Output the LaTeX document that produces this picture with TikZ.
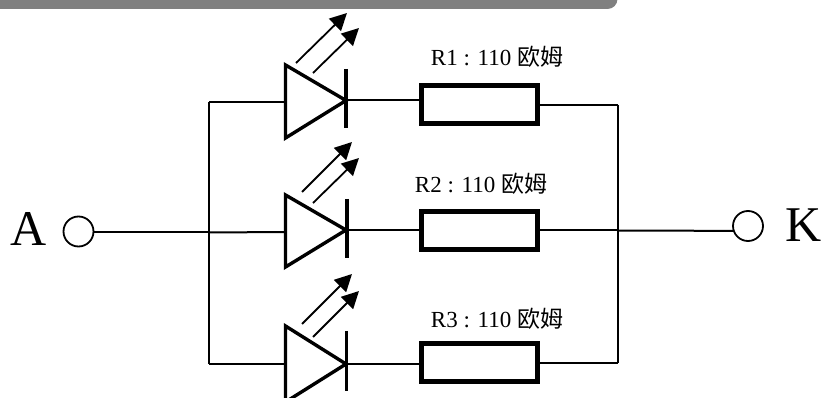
\documentclass[tikz,border=0pt]{standalone}
\usepackage{fontspec}
\setmainfont{Liberation Serif}
\newfontfamily\cjk{Noto Sans CJK SC}
\usetikzlibrary{arrows.meta}
\definecolor{barcol}{RGB}{128,128,128}
\tikzset{
  x=1pt,y=-1pt,
  wire/.style={line width=2pt,line join=miter},
  ledbody/.style={line width=3.4pt,line join=miter},
  ledbar/.style={line width=3.3pt},
  ray/.style={line width=1.8pt,-{Triangle[length=17pt,width=17pt]}},
  resbox/.style={draw,line width=4.8pt,fill=white,minimum width=116pt,minimum height=38.5pt,inner sep=0pt,outer sep=0pt},
  terminal/.style={circle,draw,line width=1.8pt,minimum size=30pt,inner sep=0pt,outer sep=0pt},
  bigtxt/.style={font=\fontsize{50}{50}\selectfont,inner sep=0pt,anchor=base},
  lab/.style={font=\fontsize{23}{23}\selectfont,inner sep=0pt,anchor=base},
}
\begin{document}
\begin{tikzpicture}
\useasboundingbox (0,0) rectangle (823,398);
\clip (0,0) rectangle (823,398);
\fill[barcol,rounded corners=10pt] (-20,-20) rectangle (617.5,9);
% terminals
\node[terminal] (ta) at (78.5,231.5) {};
\node[terminal] (tk) at (748,226) {};
\node[bigtxt] (la) at (28.5,246) {A};
\node[bigtxt] (lk) at (804,242) {K};
% buses
\coordinate (bl1) at (209,102);
\coordinate (bl2) at (209,232.5);
\coordinate (bl3) at (209,364);
\coordinate (br1) at (618,105);
\coordinate (br2) at (618,230.5);
\coordinate (br3) at (618,363);
\draw[wire] (bl1) -- (bl3);
\draw[wire] (br1) -- (br3);
\draw[wire] (ta.east |- bl2) -- (bl2);
\draw[wire] (br2) -- (tk.199);
% LED 1
\coordinate (a1) at (285.5,102);
\coordinate (k1) at (346,100.5);
\coordinate (t1) at (285.5,65);
\coordinate (b1) at (285.5,138);
\coordinate (ba1) at (346,69);
\coordinate (bb1) at (346,128);
\draw[ledbody] (t1) -- (k1) -- (b1) -- cycle;
\draw[ledbar] (ba1) -- (bb1);
\node[resbox] (r1) at (479.5,104.5) {};
\draw[wire] (bl1) -- (a1);
\draw[wire] (k1) -- (r1.west |- k1);
\draw[wire] (r1.east |- br1) -- (br1);
\coordinate (s1a) at (296,63); \coordinate (e1a) at (347,13);
\coordinate (s1b) at (313,73); \coordinate (e1b) at (359,28);
\draw[ray] (s1a) -- (e1a);
\draw[ray] (s1b) -- (e1b);
\node[lab] (l1) at (497,66) {R1 : 110 {\cjk 欧姆}};
% LED 2
\coordinate (a2) at (285.5,232);
\coordinate (k2) at (346,230);
\coordinate (t2) at (285.5,195);
\coordinate (b2) at (285.5,267);
\coordinate (ba2) at (347,199);
\coordinate (bb2) at (347,258);
\draw[ledbody] (t2) -- (k2) -- (b2) -- cycle;
\draw[ledbar] (ba2) -- (bb2);
\node[resbox] (r2) at (479.5,230.5) {};
\draw[wire] (bl2) -- (a2);
\draw[wire] (k2) -- (r2.west |- k2);
\draw[wire] (r2.east |- br2) -- (br2);
\coordinate (s2a) at (302,192); \coordinate (e2a) at (352,142);
\coordinate (s2b) at (313,203); \coordinate (e2b) at (359,158);
\draw[ray] (s2a) -- (e2a);
\draw[ray] (s2b) -- (e2b);
\node[lab] (l2) at (481,193) {R2 : 110 {\cjk 欧姆}};
% LED 3
\coordinate (a3) at (285.5,364);
\coordinate (k3) at (346,364);
\coordinate (t3) at (285.5,326);
\coordinate (b3) at (285.5,402);
\coordinate (ba3) at (346.5,331);
\coordinate (bb3) at (346.5,391);
\draw[ledbody] (t3) -- (k3) -- (b3) -- cycle;
\draw[ledbar] (ba3) -- (bb3);
\node[resbox] (r3) at (479.5,362.5) {};
\draw[wire] (bl3) -- (a3);
\draw[wire] (k3) -- (r3.west |- k3);
\draw[wire] (r3.east |- br3) -- (br3);
\coordinate (s3a) at (302,324); \coordinate (e3a) at (352,274);
\coordinate (s3b) at (313,337); \coordinate (e3b) at (359,291);
\draw[ray] (s3a) -- (e3a);
\draw[ray] (s3b) -- (e3b);
\node[lab] (l3) at (497,328) {R3 : 110 {\cjk 欧姆}};
\end{tikzpicture}
\end{document}
